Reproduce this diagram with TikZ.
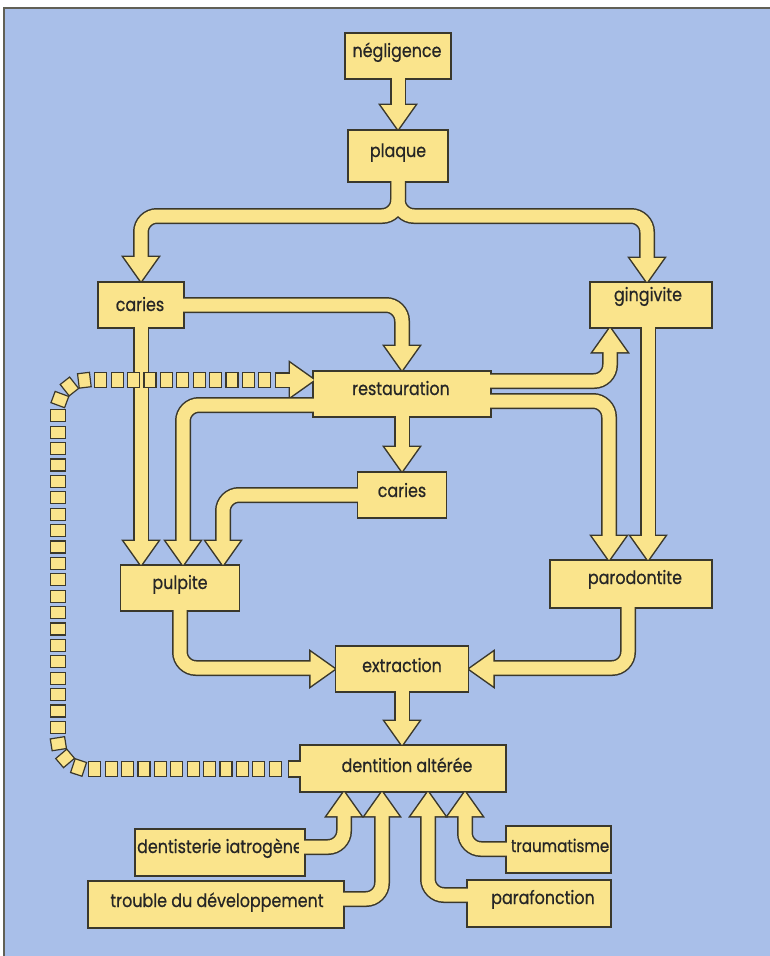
\documentclass[tikz,border=0pt]{standalone}
\usepackage{fontspec}
\newfontfamily\labfont[FakeStretch=0.86,FakeBold=0.6]{Poppins}
\usetikzlibrary{decorations.markings}
\definecolor{ink}{RGB}{58,56,44}
\definecolor{yel}{RGB}{250,228,140}
\definecolor{bgblue}{RGB}{169,191,233}
\pgfdeclarelayer{bgl}
\pgfdeclarelayer{darkl}
\pgfdeclarelayer{topl}
\pgfsetlayers{bgl,darkl,main,topl}
\tikzset{
  box/.style={draw=ink, fill=yel, line width=1.6pt, rectangle, inner sep=0pt},
  txt/.style={font=\labfont\fontsize{18.5}{20}\selectfont, anchor=base, inner sep=0pt, text=black!85},
  shD/.style={draw=ink, line width=16pt, rounded corners=16pt},
  shY/.style={draw=yel, line width=13pt, rounded corners=16pt},
  hD/.style={fill=ink, draw=ink, line width=3pt, line join=miter, sharp corners},
  hY/.style={fill=yel, sharp corners},
  sqr/.style={draw=ink, fill=yel, line width=1.2pt, minimum width=12pt, minimum height=14.5pt, inner sep=0pt, sharp corners, transform shape},
}
\newcommand\ahead[3]{\path[#1,shift={#2},rotate=#3] (0,0) -- (-24,-17) -- (-24,17) -- cycle;}
\newcommand\allshafts[1]{%
  \draw[#1] (neg.south) ++(0,-6) -- (398,106);
  \draw[#1] (398,177) -- (398,216) -- (141,216) -- (141,258);
  \draw[#1] (398,177) -- (398,216) -- (647,216) -- (647,258);
  \draw[#1] (177,305) -- (402,305) -- (402,347);
  \draw[#1] (141,322) -- (141,541);
  \draw[#1] (485,381) -- (610,381) -- (610,352);
  \draw[#1] (485,401) -- (609,401) -- (609,536);
  \draw[#1] (648,322) -- (648,536);
  \draw[#1] (319,405) -- (183,405) -- (183,541);
  \draw[#1] (402,411) -- (402,448);
  \draw[#1] (364,495) -- (223,495) -- (223,541);
  \draw[#1] (180,605) -- (180,668) -- (312,668);
  \draw[#1] (628,602) -- (628,668) -- (493,668);
  \draw[#1] (402,686) -- (402,721);
  \draw[#1] (299,847) -- (344,847) -- (344,816);
  \draw[#1] (338,899) -- (382,899) -- (382,816);
  \draw[#1] (473,895) -- (428,895) -- (428,816);
  \draw[#1] (512,849) -- (465,849) -- (465,816);
}
\newcommand\allheads[1]{%
  \ahead{#1}{(plaque.north)}{-90}
  \ahead{#1}{(car1.north)}{-90}
  \ahead{#1}{(gingin)}{-90}
  \ahead{#1}{(rest.north)}{-90}
  \ahead{#1}{(pulpa)}{-90}
  \ahead{#1}{(gingout)}{90}
  \ahead{#1}{(paroa)}{-90}
  \ahead{#1}{(parob)}{-90}
  \ahead{#1}{(pulpb)}{-90}
  \ahead{#1}{(car2.north)}{-90}
  \ahead{#1}{(pulpc)}{-90}
  \ahead{#1}{(extr.west)}{0}
  \ahead{#1}{(extr.east)}{180}
  \ahead{#1}{(dentin)}{-90}
  \ahead{#1}{(denta)}{90}
  \ahead{#1}{(dentb)}{90}
  \ahead{#1}{(dentc)}{90}
  \ahead{#1}{(dentd)}{90}
  \ahead{#1}{(restin)}{0}
}
\begin{document}
\begin{tikzpicture}[x=1pt,y=-1pt]
\useasboundingbox (0,0) rectangle (770,956);
\begin{pgfonlayer}{bgl}
\fill[white] (0,0) rectangle (770,956);
\fill[bgblue] (4,8) rectangle (770,956);
\draw[ink!80, line width=1.2pt] (4,956) -- (4,8) -- (770,8);
\end{pgfonlayer}
% boxes
\node[box, minimum width=106pt, minimum height=46pt] (neg) at (398,56) {};
\node[box, minimum width=100pt, minimum height=52pt] (plaque) at (398,156) {};
\node[box, minimum width=86pt, minimum height=46pt] (car1) at (141,305) {};
\node[box, minimum width=122pt, minimum height=46pt] (ging) at (651,305) {};
\node[box, minimum width=178pt, minimum height=46pt] (rest) at (402,394) {};
\node[box, minimum width=89pt, minimum height=46pt] (car2) at (402,495) {};
\node[box, minimum width=119pt, minimum height=46pt] (pulp) at (180,588) {};
\node[box, minimum width=162pt, minimum height=48pt] (paro) at (631,584) {};
\node[box, minimum width=133pt, minimum height=46pt] (extr) at (402,669) {};
\node[box, minimum width=206pt, minimum height=47pt] (dent) at (403,768.5) {};
\node[box, minimum width=170pt, minimum height=47pt] (iatro) at (220,852.5) {};
\node[box, minimum width=256pt, minimum height=47pt] (troub) at (216,904.5) {};
\node[box, minimum width=105pt, minimum height=47pt] (traum) at (558.5,849.5) {};
\node[box, minimum width=144pt, minimum height=47pt] (para) at (539,903.5) {};
% texts
\node[txt] (negT) at (397,57) {négligence};
\node[txt] (plaqueT) at (398,157) {plaque};
\node[txt] (car1T) at (140,311) {caries};
\node[txt] (gingT) at (648,301) {gingivite};
\node[txt] (restT) at (401,395) {restauration};
\node[txt] (car2T) at (402,497) {caries};
\node[txt] (pulpT) at (180,589) {pulpite};
\node[txt] (paroT) at (635,584) {parodontite};
\node[txt] (extrT) at (402,672) {extraction};
\node[txt] (dentT) at (407,772) {dentition altérée};
\node[txt] (iatroT) at (220,853) {dentisterie iatrogène};
\node[txt] (troubT) at (217,907) {trouble du développement};
\node[txt, font=\labfont\fontsize{17.5}{20}\selectfont] (traumT) at (560,852) {traumatisme};
\node[txt] (paraT) at (543,904) {parafonction};
% arrow tip coordinates
\coordinate (gingin) at (647,282);
\coordinate (gingout) at (610,328);
\coordinate (pulpa) at (141,565);
\coordinate (pulpb) at (183,565);
\coordinate (pulpc) at (223,565);
\coordinate (paroa) at (609,560);
\coordinate (parob) at (648,560);
\coordinate (dentin) at (402,745);
\coordinate (denta) at (344,792);
\coordinate (dentb) at (382,792);
\coordinate (dentc) at (428,792);
\coordinate (dentd) at (465,792);
\coordinate (restin) at (314,380);
% dark layer
\begin{pgfonlayer}{darkl}
\allshafts{shD}
\allheads{hD}
\draw[ink, line width=16pt] (274.5,380) -- (291,380);
\fill[ink] (287.5,760) rectangle (305,778);
\end{pgfonlayer}
% yellow layer
\begin{pgfonlayer}{topl}
\allshafts{shY}
\allheads{hY}
\draw[yel, line width=13pt] (276,380) -- (291,380);
\fill[yel] (289.2,761.7) rectangle (305,776.3);
\path[rounded corners=30pt, decoration={markings, mark=between positions 17pt and 811pt step 16.4pt with {\node[sqr] {};}}, decorate]
  (dent.west |- 0,769) ++(-7,0) -- (58,769) -- (58,380) -- (276,380);
\end{pgfonlayer}
\end{tikzpicture}
\end{document}
